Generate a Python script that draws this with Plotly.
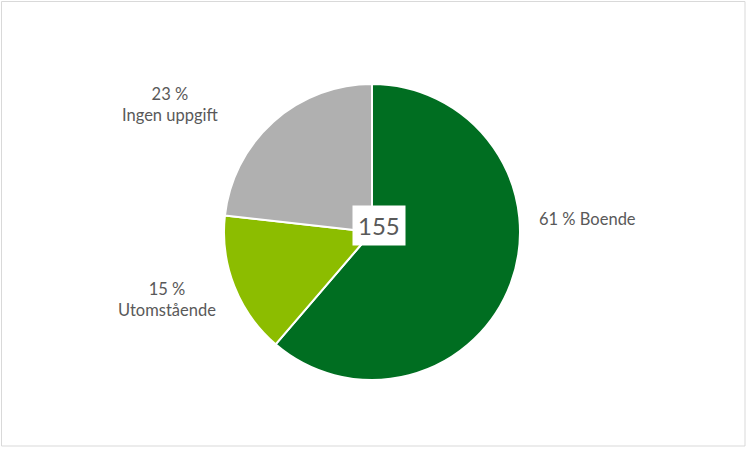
import plotly.graph_objects as go

categories = ["Boende", "Utomstående", "Ingen uppgift"]
counts = [95, 24, 36]
percent_labels = ["61 %", "15 %", "23 %"]
total_label = "155"
colors = ["#006E21", "#8CBD00", "#B0B0B0"]

W, H = 747, 449
cx, cy, r = 372, 232, 148

fig = go.Figure(go.Pie(
    labels=categories,
    values=counts,
    sort=False,
    direction="clockwise",
    rotation=0,
    marker=dict(colors=colors, line=dict(color="white", width=2)),
    textinfo="none",
    hoverinfo="label+percent",
    showlegend=False,
    domain=dict(x=[(cx - r) / W, (cx + r) / W], y=[1 - (cy + r) / H, 1 - (cy - r) / H]),
))

font = dict(family="Lato, Carlito, 'Open Sans', sans-serif", size=16.5, color="#595959")

def px(x, y):
    return x / W, 1 - y / H

ann = []
x, y = px(537, 219)
ann.append(dict(x=x, y=y, text=f"{percent_labels[0]} {categories[0]}", xanchor="left", yanchor="middle"))
x, y = px(167, 299)
ann.append(dict(x=x, y=y, text=f"{percent_labels[1]}<br>{categories[1]}", xanchor="center", yanchor="middle"))
x, y = px(170, 104)
ann.append(dict(x=x, y=y, text=f"{percent_labels[2]}<br>{categories[2]}", xanchor="center", yanchor="middle"))
for a in ann:
    a.update(xref="paper", yref="paper", showarrow=False, font=font, align="center")

x, y = px(379, 225)
ann.append(dict(x=x, y=y, xref="paper", yref="paper", showarrow=False, text=total_label,
                font=dict(family="Lato, Carlito, 'Open Sans', sans-serif", size=24, color="#595959"),
                bgcolor="white", borderpad=5, xanchor="center", yanchor="middle"))

fig.update_layout(
    width=W, height=H,
    margin=dict(l=0, r=0, t=0, b=0),
    paper_bgcolor="white",
    plot_bgcolor="white",
    annotations=ann,
    shapes=[dict(type="rect", xref="paper", yref="paper", x0=1.5 / W, x1=1 - 2 / W, y0=3 / H, y1=1 - 1.5 / H,
                 line=dict(color="#D9D9D9", width=1), fillcolor="rgba(0,0,0,0)")],
)

fig.write_html("out.html", config={"displayModeBar": False},
               post_script="document.body.style.margin='0';document.body.style.overflow='hidden';")
